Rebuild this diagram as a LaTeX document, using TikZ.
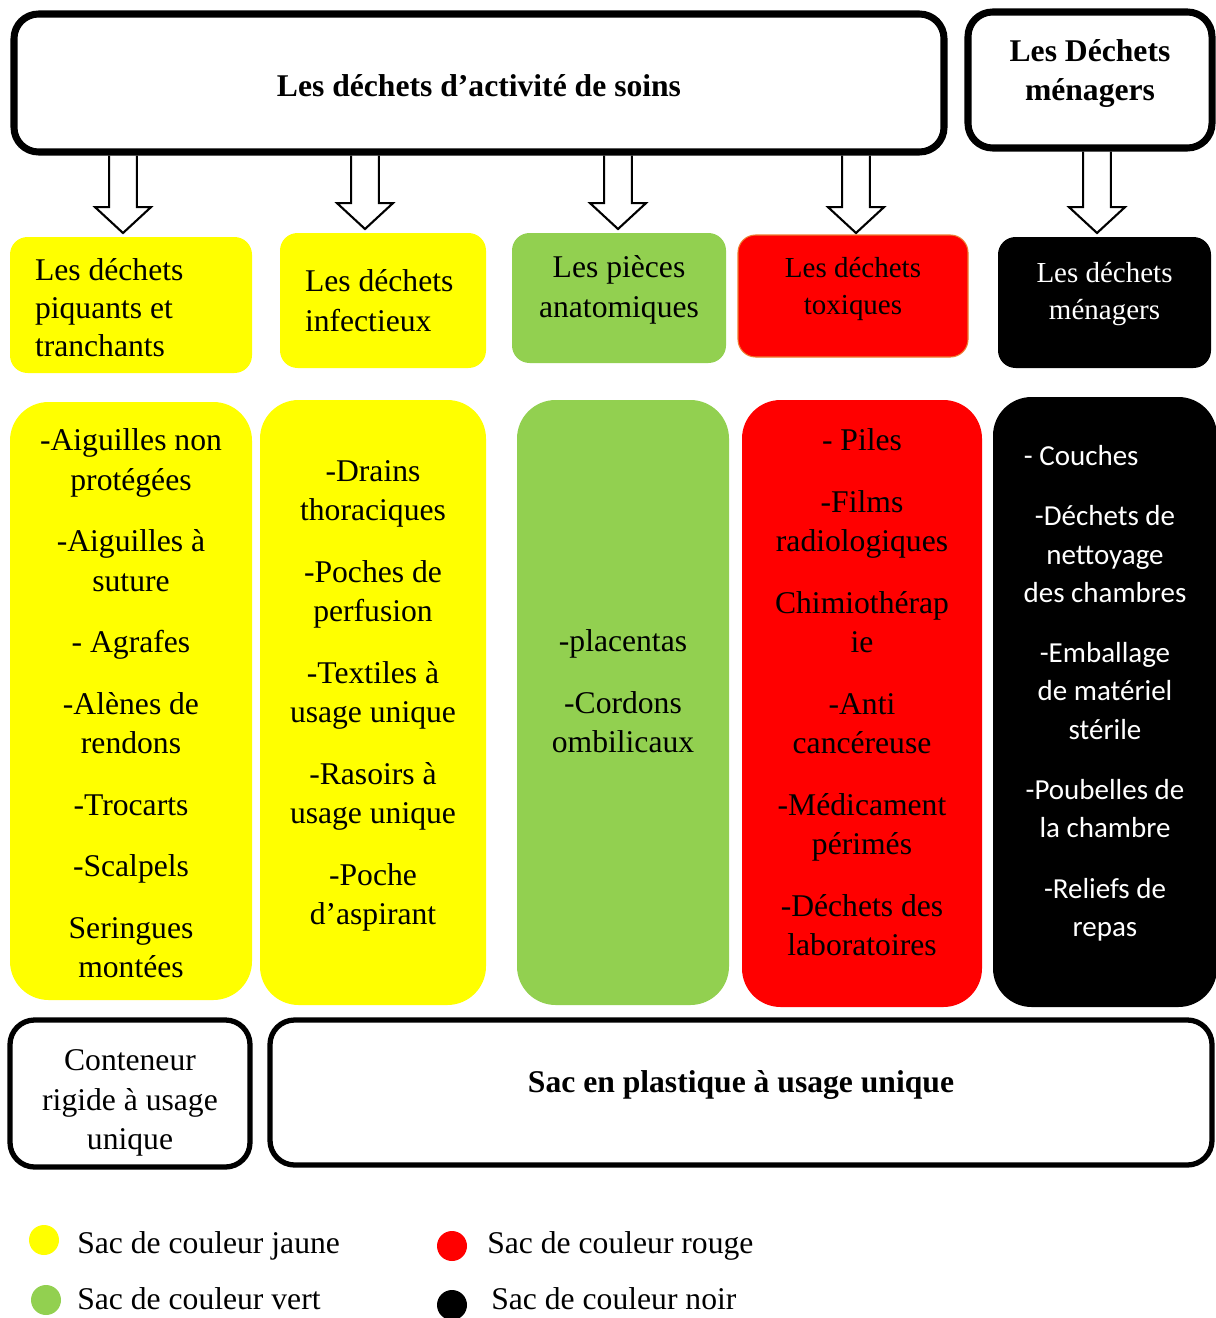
\documentclass[tikz,border=0pt]{standalone}
\usepackage{fontspec}
\setmainfont{Liberation Serif}
\newfontfamily\calibrifont{Carlito}
\usetikzlibrary{calc}
\definecolor{jaune}{RGB}{255,255,0}
\definecolor{rouge}{RGB}{255,0,0}
\definecolor{vert}{HTML}{92D050}
\definecolor{bordrouge}{HTML}{ED7D31}

\begin{document}
\begin{tikzpicture}[x=0.02cm, y=-0.02cm,
    sz/.style 2 args={minimum width=#1*0.02cm, minimum height=#2*0.02cm},
    titlebox/.style={draw, line width=4pt, rounded corners=14pt, inner sep=0pt},
    catbox/.style={rounded corners=10pt, inner sep=0pt},
    itembox/.style={rounded corners=22pt, inner sep=0pt},
    basebox/.style={draw, line width=3pt, rounded corners=14pt, inner sep=0pt},
    txt/.style={align=center, inner sep=0pt, font=\fontsize{18}{22.5}\selectfont},
    txtsmall/.style={align=center, inner sep=0pt, font=\fontsize{16.5}{21.5}\selectfont},
    txtbold/.style={align=center, inner sep=0pt, font=\fontsize{18}{22.5}\selectfont\bfseries},
    blockarrow/.style={draw, line width=1.2pt, line join=miter},
    legdot/.style={circle, inner sep=0pt, minimum size=30*0.02cm},
    legtext/.style={anchor=west, inner sep=0pt, font=\fontsize{18}{22}\selectfont}]
  \path[fill=white, use as bounding box] (0,0) rectangle (1215,1318);

  % en-tetes
  \node[titlebox, sz={930}{138}] (soins) at (479,83) {};
  \node[txtbold, yshift=-1.5pt] (tsoins) at (soins) {Les déchets d’activité de soins};
  \node[titlebox, sz={244}{136}] (menagers) at (1090,80) {};
  \node[txtbold, yshift=3.7pt] (tmenagers) at (menagers) {Les Déchets\\ménagers};

  % categories
  \node[catbox, fill=jaune, sz={242}{136}] (piquants) at (131,305) {};
  \node[txt, text width=3.84cm, align=flush left, yshift=-1.5pt, font=\fontsize{18}{21.5}\selectfont] (tpiquants) at (piquants) {Les déchets\\piquants et\\tranchants};
  \node[catbox, fill=jaune, sz={206}{135}] (infectieux) at (383,300.5) {};
  \node[txt, text width=3.12cm, align=flush left] (tinfectieux) at (infectieux) {Les déchets\\infectieux};
  \node[catbox, fill=vert, sz={214}{130}] (anatomiques) at (619,298) {};
  \node[txt, yshift=4.5pt] (tanatomiques) at (anatomiques) {Les pièces\\anatomiques};
  \node[catbox, fill=rouge, draw=bordrouge, line width=0.6pt, sz={230}{122}] (toxiques) at (853,296) {};
  \node[txtsmall, yshift=4pt] (ttoxiques) at (toxiques) {Les déchets\\toxiques};
  \node[catbox, fill=black, sz={213}{131}] (menages) at (1104.5,302.5) {};
  \node[txtsmall, text=white, yshift=4.8pt] (tmenages) at (menages) {Les déchets\\ménagers};

  % fleches creuses
  \coordinate (t1) at (123,233);
  \coordinate (t2) at (365,229);
  \coordinate (t3) at (618,229);
  \coordinate (t4) at (856,233);
  \coordinate (t5) at (1097,233);
  \foreach \src/\tip in {soins/t1, soins/t2, soins/t3, soins/t4, menagers/t5}
    \draw[blockarrow] let \p1=(\src.south), \p2=(\tip) in
      (\x2-7.9pt,\y1) -- (\x2-7.9pt,\y2+14.7pt) -- (\x2-15.9pt,\y2+14.7pt) -- (\x2,\y2)
      -- (\x2+15.9pt,\y2+14.7pt) -- (\x2+7.9pt,\y2+14.7pt) -- (\x2+7.9pt,\y1);

  % listes
  \node[itembox, fill=jaune, sz={242}{598}] (listepiq) at (131,701) {};
  \node[txt, yshift=-1.3pt] (tlistepiq) at (listepiq)
    {-Aiguilles non\\protégées\\[12.5pt]-Aiguilles à\\suture\\[12.5pt]- Agrafes\\[12.5pt]-Alènes de\\rendons\\[12.5pt]-Trocarts\\[12.5pt]-Scalpels\\[12.5pt]Seringues\\montées};
  \node[itembox, fill=jaune, sz={226}{605}] (listeinf) at (373,702.5) {};
  \node[txt, yshift=3.8pt] (tlisteinf) at (listeinf)
    {-Drains\\thoraciques\\[12.5pt]-Poches de\\perfusion\\[12.5pt]-Textiles à\\usage unique\\[12.5pt]-Rasoirs à\\usage unique\\[12.5pt]-Poche\\d’aspirant};
  \node[itembox, fill=vert, sz={212}{605}] (listeana) at (623,702.5) {};
  \node[txt, yshift=6.2pt] (tlisteana) at (listeana)
    {-placentas\\[12.5pt]-Cordons\\ombilicaux};
  \node[itembox, fill=rouge, sz={240}{607}] (listetox) at (862,703.5) {};
  \node[txt, yshift=6.2pt] (tlistetox) at (listetox)
    {- Piles\\[12.5pt]-Films\\radiologiques\\[12.5pt]Chimiothérap\\ie\\[12.5pt]-Anti\\cancéreuse\\[12.5pt]-Médicament\\périmés\\[12.5pt]-Déchets des\\laboratoires};
  \node[itembox, fill=black, sz={224}{610}] (listemen) at (1105,702) {};
  \node[txt, text=white, font=\calibrifont\fontsize{16.5}{21.8}\selectfont, yshift=5pt] (tlistemen) at (listemen)
    {\hspace*{-0.95cm}- Couches\\[12.5pt]-Déchets de\\nettoyage\\des chambres\\[12.5pt]-Emballage\\de matériel\\stérile\\[12.5pt]-Poubelles de\\la chambre\\[12.5pt]-Reliefs de\\repas};

  % conditionnement
  \node[basebox, sz={240}{147}] (conteneur) at (130,1093.5) {};
  \node[txt, yshift=-5.4pt] (tconteneur) at (conteneur) {Conteneur\\rigide à usage\\unique};
  \node[basebox, sz={942}{145}] (sac) at (741,1092.5) {};
  \node[txtbold, yshift=4pt] (tsac) at (sac) {Sac en plastique à usage unique};

  % legende
  \node[legdot, fill=jaune] (djaune) at (44,1240) {};
  \node[legtext] (ljaune) at (77,1246) {Sac de couleur jaune};
  \node[legdot, fill=rouge] (drouge) at (452,1246) {};
  \node[legtext] (lrouge) at (487,1246) {Sac de couleur rouge};
  \node[legdot, fill=vert] (dvert) at (46,1300) {};
  \node[legtext] (lvert) at (77,1299) {Sac de couleur vert};
  \node[legdot, fill=black] (dnoir) at (452,1305) {};
  \node[legtext] (lnoir) at (491,1299) {Sac de couleur noir};
\end{tikzpicture}
\end{document}
